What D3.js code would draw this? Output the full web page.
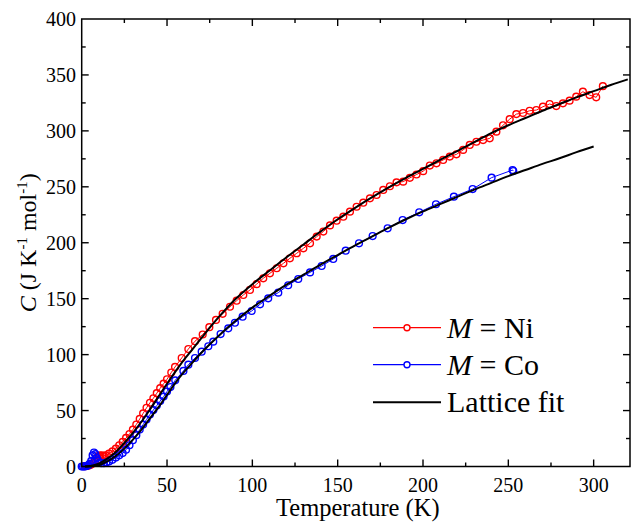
<!DOCTYPE html>
<html><head><meta charset="utf-8">
<script src="https://cdn.jsdelivr.net/npm/d3@7"></script>
<style>
body{margin:0;background:#fff}
svg text{font-family:"Liberation Serif","Times New Roman",Tinos,serif}
</style>
</head><body>
<svg id="c" width="641" height="523"></svg>
<script>
// ---- data (T in K, C in J K^-1 mol^-1) ----
const niData = [[2,0.3],[3,0.5],[4,0.8],[5,1.3],[6,2.2],[7,3.5],[8,5.5],[9,8],[10,9.5],[11,10],[12,9.8],[13,9.5],[14,10],[16,11.5],[18,13.5],[20,16],[22,19],[24,22],[26,25.5],[28,29],[30,33],[32,37.5],[34,42.5],[36,47.5],[38,52.5],[40,57],[42,61],[44,65.5],[46,70],[48,74],[50,78],[52.5,84],[54.7,89],[58.6,97],[62.5,105],[66.4,112],[70.9,118],[74.8,124.5],[78.7,131],[82.6,136.5],[86.9,142.8],[90.8,148.2],[94.7,153.3],[98.6,157.8],[102.5,163],[106.4,168.2],[110.3,172.7],[114.3,177.2],[118.2,181.6],[122,186.1],[126,190.6],[129.9,195],[133.8,199.5],[137.7,205.5],[141.6,210],[145.5,215.5],[149.4,219.7],[153.3,223.3],[157.2,227.8],[161.1,232.2],[165,235.8],[168.9,239.7],[172.8,242.7],[176.7,247.2],[180.6,250.5],[184.5,254],[188.4,254.6],[192.3,258],[196.2,261],[200.1,264],[204,269],[207.9,271],[211.8,274],[215.7,277],[219.6,279],[223.5,283],[227.4,287.4],[231.3,290.3],[235.2,291.8],[239.1,293.3],[243,299.3],[246.9,305],[250.8,310.5],[254.7,315],[258.6,316],[262.5,318],[266.4,318.6],[270.3,321.6],[274.2,324],[278.1,322.2],[282,324.6],[285.9,327],[289.8,330.6],[293.7,335],[297.6,332],[301.5,330],[305.4,340]];
const coData = [[0,0],[0.8,0],[1.6,0.1],[2.4,0.3],[3.2,0.6],[4,1.2],[4.8,2.5],[5.6,5],[6.4,10],[7.2,12.5],[8,11],[8.8,7.5],[9.6,5],[10.4,3.5],[11.5,3],[13,3],[14.5,3.5],[16,4.5],[18,6],[20,8],[22,10],[24,12],[26,15],[28,19],[30,23.5],[32,28],[34,33],[36,37.5],[38,42],[40,46.5],[42,50.5],[44,54.5],[46,58.5],[48,62.5],[50,67],[52,71],[54.8,77],[59.6,85.4],[62.5,91],[66.4,97],[70.3,102.6],[74.2,107.5],[77.1,111.6],[81.4,118.4],[85.9,123.5],[89.8,128.5],[94.3,133.9],[99.6,139],[104.5,145],[109.3,150.3],[115.2,155.4],[121,162],[126.9,167.6],[133.8,173.5],[140.6,179.2],[147.4,185.5],[154.7,192.9],[162.5,199.5],[170.5,206],[179.3,212.9],[188.1,220.3],[197.8,227.2],[207.6,234.4],[218.1,241.2],[229.1,248],[240.2,258.2],[252.5,265],[252.9,264.1]];
const niFit = [[2,0],[5,0.4],[10,2.5],[15,7],[20,13],[25,21],[30,30],[35,40],[40,51],[45,62.5],[50,74],[55,85],[60,95.5],[65,105],[70,114.5],[80,133],[90,149.5],[100,163],[110,175],[120,187],[130,198.5],[140,210],[150,221],[160,231],[170,240.5],[180,249.5],[190,258],[200,266],[210,274],[220,282],[230,290],[240,298],[250,305],[260,311.5],[270,318],[280,324],[290,330],[300,335.5],[310,341],[320,346]];
const coFit = [[2,0],[5,0.2],[10,1.2],[15,4.5],[20,9.5],[25,16],[30,24],[35,33],[40,43],[45,53],[50,64],[55,75],[60,84.5],[65,93],[70,101.5],[80,116.5],[90,130],[100,142],[110,152.5],[120,162.5],[130,171.5],[140,180.5],[150,189],[160,197.5],[170,205.5],[180,213.5],[190,221],[200,228],[210,234.5],[220,241],[230,247.5],[240,253.5],[250,259.5],[260,265],[270,270.5],[280,275.5],[290,281],[300,286]];
const xTicks = [0,50,100,150,200,250,300];
const yTicks = [0,50,100,150,200,250,300,350,400];
const legendLabels = ["Ni","Co","Lattice fit"];

// ---- layout ----
const svg = d3.select("#c");
const L = 81.7, R = 630, T = 19, B = 466.5;
const FONT = "Liberation Serif, Times New Roman, serif";
const x = d3.scaleLinear().domain([0, 321.3]).range([L, R]);
const y = d3.scaleLinear().domain([0, 400]).range([B, T]);

const xMinor = d3.range(0, 321, 25);
const yMinor = d3.range(0, 401, 25);

const g = svg.append("g");

const line = d3.line().x(d => x(d[0])).y(d => y(d[1]));
const fitLine = d3.line().x(d => x(d[0])).y(d => y(d[1])).curve(d3.curveMonotoneX);

function series(data, color) {
  g.append("path").attr("d", line(data)).attr("fill", "none")
    .attr("stroke", color).attr("stroke-width", 1);
  g.append("g").selectAll("circle").data(data).join("circle")
    .attr("cx", d => x(d[0])).attr("cy", d => y(d[1])).attr("r", 3.4)
    .attr("fill", "none").attr("stroke", color).attr("stroke-width", 1.4);
}
series(niData, "#ff0000");
series(coData, "#0000ff");

[niFit, coFit].forEach(f => {
  g.append("path").attr("d", fitLine(f)).attr("fill", "none")
    .attr("stroke", "#000").attr("stroke-width", 2);
});

// frame
svg.append("rect").attr("x", L).attr("y", T).attr("width", R - L).attr("height", B - T)
  .attr("fill", "none").attr("stroke", "#000").attr("stroke-width", 1.5);

// ticks (inward, all four sides)
function tickLen(v) { return v % 50 === 0 ? 7 : 4; }
const tk = svg.append("g").attr("stroke", "#000").attr("stroke-width", 1.4);
xMinor.forEach(v => {
  if (v === 0) return;
  tk.append("line").attr("x1", x(v)).attr("x2", x(v)).attr("y1", B).attr("y2", B - tickLen(v));
  tk.append("line").attr("x1", x(v)).attr("x2", x(v)).attr("y1", T).attr("y2", T + tickLen(v));
});
yMinor.forEach(v => {
  if (v === 0 || v === 400) return;
  tk.append("line").attr("y1", y(v)).attr("y2", y(v)).attr("x1", L).attr("x2", L + tickLen(v));
  tk.append("line").attr("y1", y(v)).attr("y2", y(v)).attr("x1", R).attr("x2", R - tickLen(v));
});

// tick labels
svg.append("g").selectAll("text").data(xTicks).join("text")
  .attr("x", d => x(d)).attr("y", 492).attr("text-anchor", "middle")
  .attr("font-family", FONT).attr("font-size", 20).text(d => d);
svg.append("g").selectAll("text").data(yTicks).join("text")
  .attr("x", 76).attr("y", d => y(d) + 7).attr("text-anchor", "end")
  .attr("font-family", FONT).attr("font-size", 20).text(d => d);

// axis titles
svg.append("text").attr("x", (L + R) / 2 + 2).attr("y", 516).attr("text-anchor", "middle")
  .attr("font-family", FONT).attr("font-size", 24.5).text("Temperature (K)");

const yt = svg.append("text").attr("transform", `translate(36,${(T + B) / 2}) rotate(-90)`)
  .attr("text-anchor", "middle").attr("font-family", FONT).attr("font-size", 24);
yt.append("tspan").attr("font-style", "italic").text("C");
yt.append("tspan").text(" (J K");
yt.append("tspan").attr("font-size", 15).attr("dy", -9).text("-1");
yt.append("tspan").attr("dy", 9).text(" mol");
yt.append("tspan").attr("font-size", 15).attr("dy", -9).text("-1");
yt.append("tspan").attr("dy", 9).text(")");

// legend
const legY = [327.7, 364.7, 402.3];
const legColors = ["#ff0000", "#0000ff", "#000"];
const leg = svg.append("g");
legendLabels.forEach((lab, i) => {
  leg.append("line").attr("x1", 373).attr("x2", 441).attr("y1", legY[i]).attr("y2", legY[i])
    .attr("stroke", legColors[i]).attr("stroke-width", i === 2 ? 2 : 1.2);
  if (i < 2) {
    leg.append("circle").attr("cx", 407).attr("cy", legY[i]).attr("r", 3)
      .attr("fill", "#fff").attr("stroke", legColors[i]).attr("stroke-width", 1.4);
  }
  const t = leg.append("text").attr("x", 447).attr("y", legY[i] + 9.8)
    .attr("font-family", FONT).attr("font-size", 30);
  if (i < 2) {
    t.append("tspan").attr("font-style", "italic").text("M");
    t.append("tspan").text(" = " + lab);
  } else {
    t.text(lab);
  }
});
</script>
</body></html>
